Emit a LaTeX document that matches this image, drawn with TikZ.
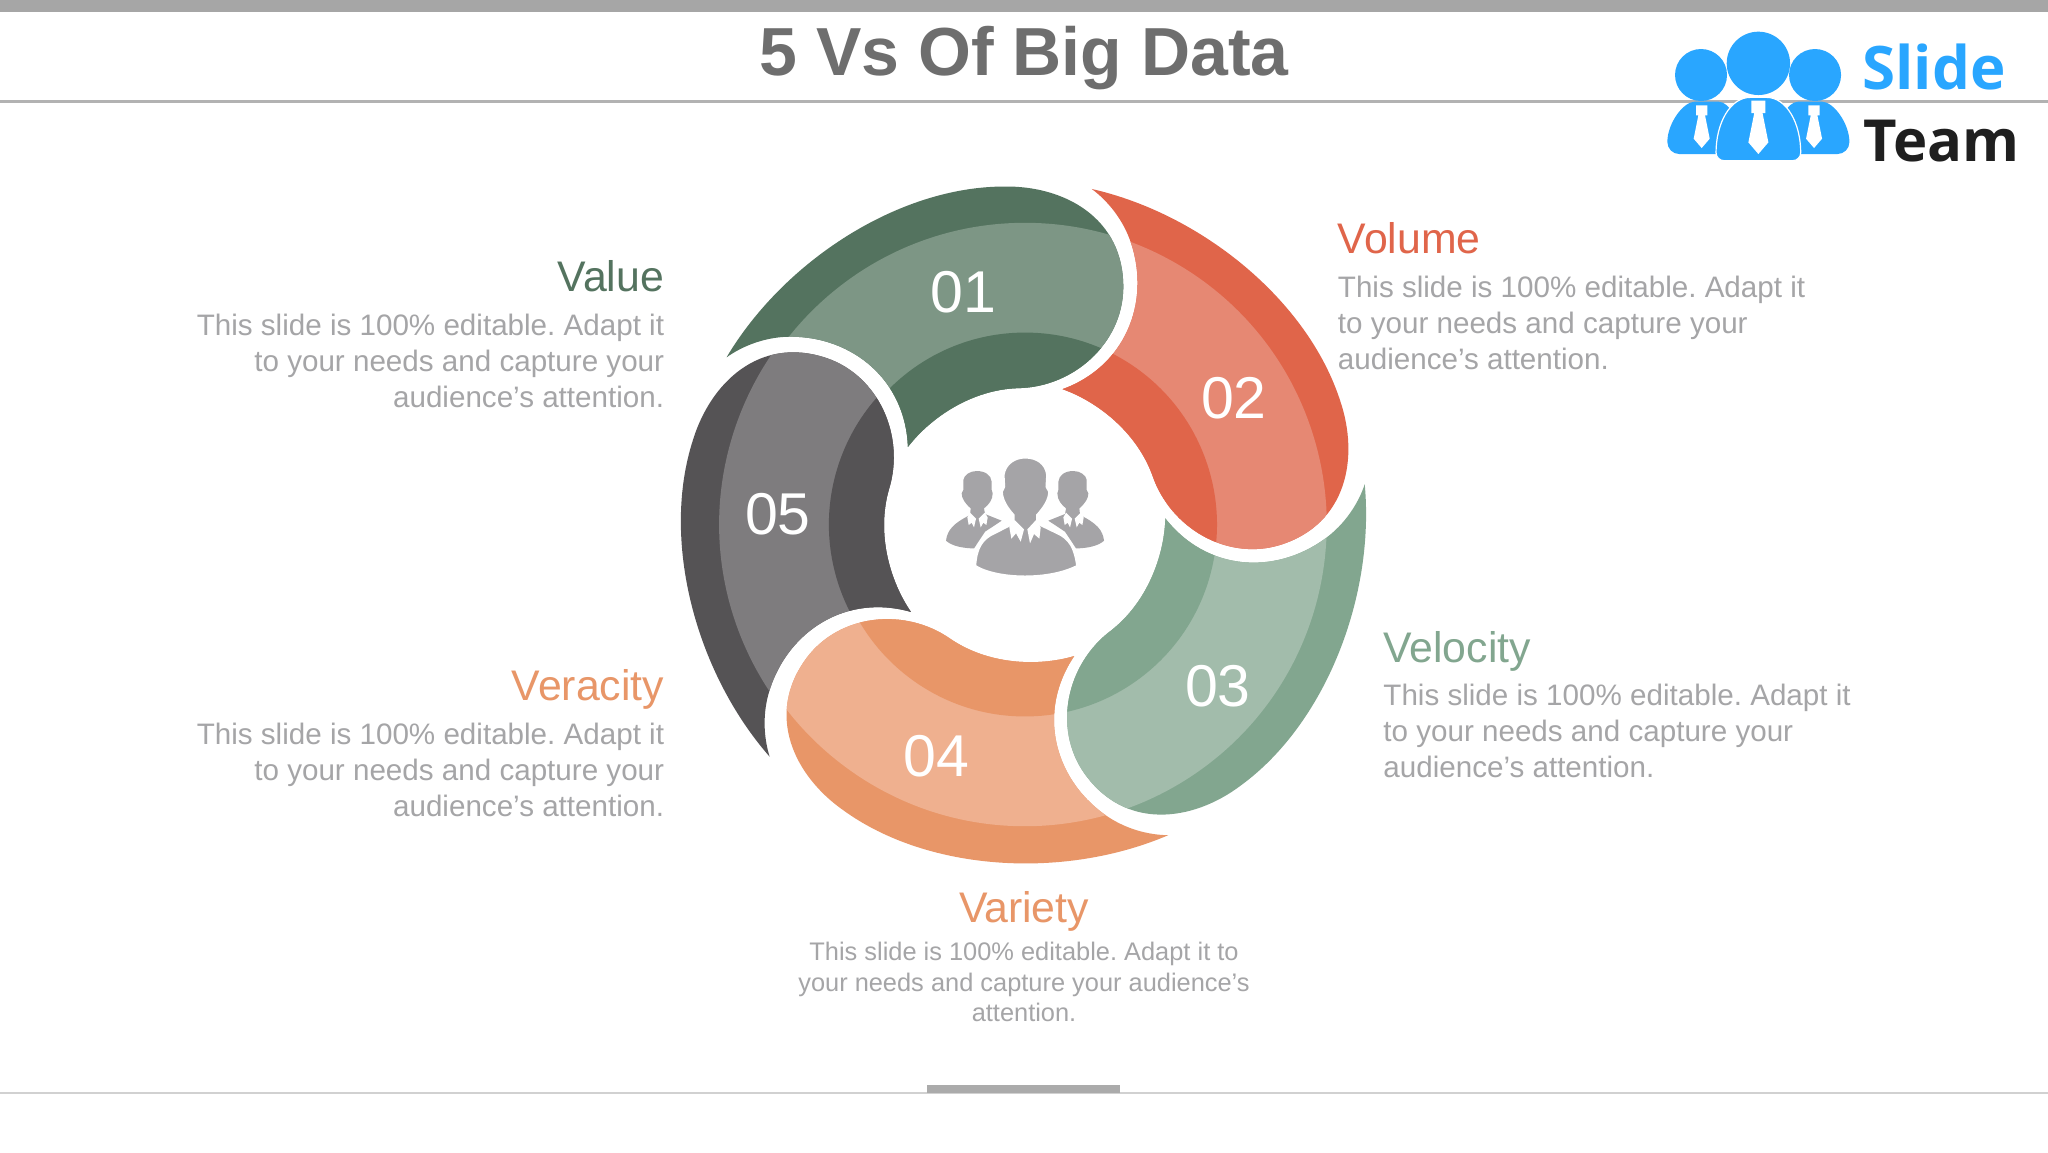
\documentclass[tikz,border=0pt]{standalone}
\usepackage{fontspec}
\setmainfont{Liberation Sans}
\newfontfamily\logofont{Open Sans}
\frenchspacing
\definecolor{valuedark}{HTML}{54735F}
\definecolor{valuelight}{HTML}{7D9685}
\definecolor{volumedark}{HTML}{E0654A}
\definecolor{volumelight}{HTML}{E68873}
\definecolor{velocitydark}{HTML}{82A68F}
\definecolor{velocitylight}{HTML}{A2BCAB}
\definecolor{varietydark}{HTML}{E89668}
\definecolor{varietylight}{HTML}{EFB08F}
\definecolor{veracitydark}{HTML}{555355}
\definecolor{veracitylight}{HTML}{7E7C7E}
\definecolor{bodygrey}{HTML}{A5A5A7}
\definecolor{logoblue}{HTML}{29A6FF}
\definecolor{icongrey}{HTML}{A5A4A7}
\newcommand{\petalpath}{(-650,-364) .. controls (-525,-574) and (-275,-736) .. (-45,-736)
  .. controls (85,-738) and (216,-668) .. (214,-514)
  .. controls (212,-394) and (105,-299) .. (-15,-297)
  .. controls (-115,-294) and (-205,-234) .. (-255,-169)
  .. controls (-260,-314) and (-375,-409) .. (-510,-409)
  .. controls (-565,-409) and (-615,-389) .. (-650,-364) -- cycle}
\newcommand{\sideperson}{(78,302) .. controls (82,270) and (100,250) .. (150,225) -- (152,205)
  .. controls (135,190) and (125,175) .. (125,160) -- (130,150) -- (130,120)
  .. controls (132,105) and (150,93) .. (170,93) .. controls (195,93) and (213,105) .. (215,125)
  -- (215,150) -- (218,160) .. controls (218,180) and (205,195) .. (192,205) -- (195,222)
  -- (245,242) -- (195,275) -- (162,325) .. controls (130,325) and (95,318) .. (78,302) -- cycle}
\begin{document}
\begin{tikzpicture}[x=0.5pt, y=-0.5pt,
  headtext/.style={inner sep=0pt, font=\fontsize{21.4}{25}\selectfont},
  bodytext/.style={inner sep=0pt, text=bodygrey, font=\fontsize{14.8}{18}\selectfont},
  numtext/.style={inner sep=0pt, text=white, font=\fontsize{29.5}{34}\selectfont}]
\useasboundingbox (0,0) rectangle (2048,1152);
\fill[white] (0,0) rectangle (2048,1152);
% Title bar
\fill[black!35] (0,0) rectangle (2048,12);
\draw[black!30, line width=1.5pt] (0,101) -- (2048,101);
\node[text=black!57, inner sep=0pt, font=\fontsize{34}{40}\selectfont\bfseries] (title) at (1024,58) {5 Vs Of Big Data};
% Footer
\draw[black!18, line width=0.6pt] (0,1093) -- (2048,1093);
\fill[black!33] (927,1085) rectangle (1120,1093);
% Logo
\begin{scope}[shift={(1640,0)}, x=0.1667pt, y=-0.1667pt]
  \fill[logoblue] (183,225) circle[radius=78];
  \fill[logoblue] (525,225) circle[radius=78];
  \fill[logoblue] (355,190) circle[radius=95];
  \fill[logoblue, rounded corners=6pt] (82,462) .. controls (82,370) and (130,305) .. (200,305) .. controls (270,305) and (300,370) .. (300,462) -- cycle;
  \fill[logoblue, rounded corners=6pt] (628,462) .. controls (628,370) and (580,305) .. (510,305) .. controls (440,305) and (410,370) .. (410,462) -- cycle;
  \fill[logoblue, draw=white, line width=0.6pt, rounded corners=4pt] (228,482) .. controls (228,370) and (270,292) .. (355,292) .. controls (440,292) and (482,370) .. (482,482) -- cycle;
  % ties
  \foreach \tiex/\tiey/\ties in {185/316/1, 522/316/1, 355/302/1.25} {
    \fill[white, shift={(\tiex,\tiey)}, scale=\ties] (-17,0) -- (17,0) -- (17,30) -- (10,30) -- (24,100) -- (0,128) -- (-24,100) -- (-10,30) -- (-17,30) -- cycle;
  }
\end{scope}
\node[anchor=base west, inner sep=0pt, text=logoblue, font=\logofont\fontsize{30}{36}\selectfont\bfseries] (logoslide) at (1862,89) {Slide};
\node[anchor=base west, inner sep=0pt, text=black!88, font=\logofont\fontsize{29}{36}\selectfont\bfseries] (logoteam) at (1863,161) {Team};
% Petals
\begin{scope}[shift={(1025,524.5)}, x=0.2296pt, y=-0.2296pt]
  \foreach \petalname/\petalangle/\petalshift in {value/0/0, volume/-72/0, velocity/-144/0, variety/-216/0, veracity/-288/-9} {
    \begin{scope}[shift={(\petalshift,0)}, rotate=\petalangle]
      \fill[\petalname dark] \petalpath;
      \clip \petalpath;
      \fill[\petalname light] (0,0) circle[radius=657];
      \fill[\petalname dark] (0,0) circle[radius=418];
    \end{scope}
  }
  \node[numtext] (num01) at (-134,-506) {01};
  \node[numtext] (num02) at (455,-276) {02};
  \node[numtext] (num03) at (420,353) {03};
  \node[numtext] (num04) at (-193,504) {04};
  \node[numtext] (num05) at (-538,-22) {05};
\end{scope}
% Centre icon
\begin{scope}[shift={(920,440)}, x=0.1667pt, y=-0.1667pt]
  \fill[icongrey] \sideperson;
  \begin{scope}[shift={(630,0)}, x=-0.1667pt]
    \fill[icongrey] \sideperson;
  \end{scope}
  \fill[icongrey, draw=white, line width=1.2pt] (165,378) .. controls (168,325) and (185,295) .. (225,278) -- (280,250) -- (280,225)
    .. controls (262,205) and (245,180) .. (245,155) -- (252,140) -- (250,105)
    .. controls (255,70) and (285,52) .. (315,52) .. controls (350,52) and (378,70) .. (382,105)
    -- (380,140) -- (388,155) .. controls (388,180) and (370,205) .. (352,225) -- (352,250)
    -- (410,278) .. controls (450,295) and (465,325) .. (472,378)
    .. controls (430,400) and (370,410) .. (315,410) .. controls (260,410) and (200,400) .. (165,378) -- cycle;
  % collars
  \fill[white] (268,262) -- (284,240) -- (312,268) -- (302,305) -- (288,280) -- (274,296) -- cycle;
  \fill[white] (362,262) -- (348,240) -- (322,268) -- (330,310) -- (342,282) -- (358,296) -- cycle;
  \foreach \collarx in {0,288} {
    \fill[white, shift={(\collarx,0)}] (142,232) -- (150,218) -- (168,236) -- (162,262) -- (155,248) -- (146,255) -- cycle;
    \fill[white, shift={(\collarx,0)}] (203,232) -- (194,218) -- (176,236) -- (182,262) -- (190,248) -- (199,255) -- cycle;
  }
\end{scope}
% Value
\node[headtext, text=valuedark, anchor=east] (valuehead) at (664.5,276) {Value};
\node[bodytext, anchor=east, align=right] (valuebody) at (664.5,361) {This slide is 100\% editable. Adapt it\\to your needs and capture your\\audience’s attention.};
% Volume
\node[headtext, text=volumedark, anchor=west] (volumehead) at (1337.5,238) {Volume};
\node[bodytext, anchor=west, align=left] (volumebody) at (1337.5,323) {This slide is 100\% editable. Adapt it\\to your needs and capture your\\audience’s attention.};
% Velocity
\node[headtext, text=velocitydark, anchor=west] (velocityhead) at (1383,651) {Velocity};
\node[bodytext, anchor=west, align=left] (velocitybody) at (1383,731) {This slide is 100\% editable. Adapt it\\to your needs and capture your\\audience’s attention.};
% Variety
\node[headtext, text=varietydark] (varietyhead) at (1024,911) {Variety};
\node[bodytext, align=center, font=\fontsize{12.7}{15.4}\selectfont] (varietybody) at (1024,982) {This slide is 100\% editable. Adapt it to\\your needs and capture your audience’s\\attention.};
% Veracity
\node[headtext, text=varietydark, anchor=east] (veracityhead) at (664.5,689) {Veracity};
\node[bodytext, anchor=east, align=right] (veracitybody) at (664.5,770) {This slide is 100\% editable. Adapt it\\to your needs and capture your\\audience’s attention.};
\end{tikzpicture}
\end{document}
